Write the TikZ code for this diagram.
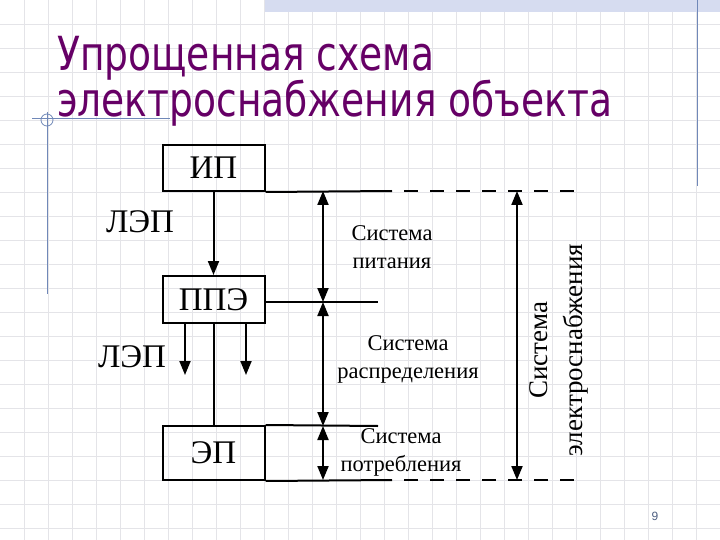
\documentclass[tikz,border=0pt]{standalone}
\usepackage{fontspec}
\setmainfont{Liberation Serif}
\newfontfamily\titlefont{DejaVu Sans}
\newfontfamily\numfont{Liberation Sans}
\usetikzlibrary{arrows.meta}
\definecolor{titlepurple}{RGB}{102,0,102}
\definecolor{gridgray}{RGB}{228,228,232}
\definecolor{decoblue}{RGB}{112,136,184}
\definecolor{stripblue}{RGB}{214,220,240}
\tikzset{
  blk/.style={draw, line width=2pt, minimum width=102pt, inner sep=0pt},
  ln/.style={line width=2pt},
  arr/.style={line width=2pt, -{Triangle[length=14pt,width=11pt]}},
  darr/.style={line width=2pt, {Triangle[length=14pt,width=11pt]}-{Triangle[length=14pt,width=11pt]}},
  lbl/.style={font=\fontsize{33}{35}\selectfont},
  sys/.style={font=\fontsize{22.5}{28}\selectfont, align=center},
  dsh/.style={line width=2pt, dash pattern=on 14pt off 12pt},
  ttl/.style={anchor=base west, inner sep=0pt, text=titlepurple, font=\titlefont\fontsize{47}{50}\selectfont, xscale=0.8}
}
\begin{document}
\begin{tikzpicture}[x=1pt,y=-1pt]
\useasboundingbox (0,0) rectangle (720,540);
\fill[white] (0,0) rectangle (720,540);
% grid
\foreach \i in {24,48,...,720} \draw[gridgray, line width=0.8pt] (\i,0) -- (\i,540);
\foreach \j in {24,48,...,540} \draw[gridgray, line width=0.8pt] (0,\j) -- (720,\j);
% decoration
\fill[stripblue] (265,0) rectangle (720,12);
\draw[decoblue, line width=1pt] (697,0) -- (697,186);
\draw[decoblue, line width=1pt] (47,112) -- (47,294);
\draw[decoblue, line width=1pt] (32,119) -- (170,119);
\draw[decoblue, line width=0.8pt] (47,120) circle (6);
% title
\node[ttl] (t1) at (57,71) {Упрощенная схема};
\node[ttl] (t2) at (57,117) {электроснабжения объекта};
% boxes
\node[blk, minimum height=46pt, lbl] (ip) at (213.5,168) {ИП};
\node[blk, minimum height=47pt, lbl] (ppe) at (213.5,299.5) {ППЭ};
\node[blk, minimum height=54pt, lbl] (ep) at (213.5,453) {ЭП};
% extension lines
\coordinate (ipR) at (392,191);
\coordinate (ipD) at (574,191);
\coordinate (ppR) at (378,302);
\coordinate (epT) at (378,426);
\coordinate (epR) at (392,480);
\coordinate (epD) at (574,480);
\draw[ln] (ip.south east) -- (ipR);
\draw[dsh, dash phase=14pt] (ipR) -- (ipD);
\draw[ln] (ppe.east |- ppR) -- (ppR);
\draw[ln] (ep.north east) -- (epT);
\draw[ln] (ep.south east) -- (epR);
\draw[dsh, dash phase=14pt] (epR) -- (epD);
% vertical connections
\draw[arr] (ip.south) -- (ppe.north);
\draw[ln] (ppe.south) -- (ep.north);
\coordinate (a1) at (185,375);
\coordinate (a2) at (246,375);
\draw[arr] (ppe.south -| a1) -- (a1);
\draw[arr] (ppe.south -| a2) -- (a2);
\node[lbl] (l1) at (140,222) {ЛЭП};
\node[lbl] (l2) at (132,357) {ЛЭП};
% dimension arrows
\coordinate (d1) at (323,191);
\coordinate (d2) at (323,302);
\coordinate (d3) at (323,426);
\coordinate (d4) at (323,480);
\draw[darr] (d1) -- (d2);
\draw[darr] (d2) -- (d3);
\draw[darr] (d3) -- (d4);
\coordinate (b1) at (517,191);
\coordinate (b2) at (517,480);
\draw[darr] (b1) -- (b2);
\node[sys] (s1) at (392,247) {Система\\питания};
\node[sys] (s2) at (408,359) {Система\\распределения};
\node[sys] (s3) at (401,452) {Система\\потребления};
\node[font=\fontsize{27}{35}\selectfont, align=center, rotate=90] (s4) at (559,350) {Система\\электроснабжения};
\node[font=\numfont\fontsize{12}{14}\selectfont, text=decoblue!70!black] (pg) at (655,516) {9};
\end{tikzpicture}
\end{document}
